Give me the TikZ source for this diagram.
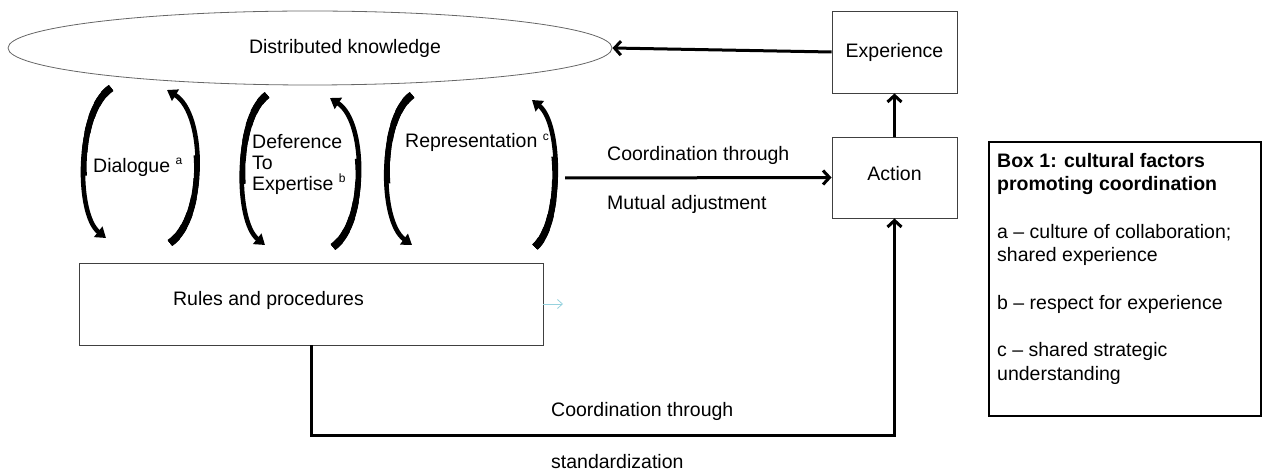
\documentclass[tikz,border=0pt]{standalone}
\usepackage{fontspec}
\setmainfont{Liberation Sans}
\usetikzlibrary{arrows.meta,shapes.geometric}

\definecolor{paleblue}{RGB}{150,210,222}
% small raised marker after a label
\newcommand\supmark[1]{\raisebox{7.5pt}{\fontsize{12}{12}\selectfont #1}}
% curved arrow whose tail end is thicker than its head end
\newcommand\bentarrow[4]{%
  \draw[loop] #1 .. controls #2 and #3 .. #4;
  \foreach \w/\l in {5.1/95,5.6/72,6.1/52,6.6/36,7.1/22,7.6/10}{%
    \draw[loopbase, line width=\w pt, dash pattern=on \l pt off 600pt] #1 .. controls #2 and #3 .. #4;}}

\begin{document}
\begin{tikzpicture}[x=1pt,y=-1pt,
  every node/.style={font=\fontsize{19.5}{23.5}\selectfont, inner sep=0pt},
  box/.style={draw=black!75, line width=0.9pt, rectangle},
  flow/.style={line width=3pt, -{Straight Barb[length=6.5pt,width=14pt]}},
  loopbase/.style={line cap=butt},
  loop/.style={loopbase, line width=4.6pt, -{Triangle[length=10pt,width=13pt]}},
  lbl/.style={anchor=base west}
]
\useasboundingbox (0,0) rectangle (1267,470);

% knowledge ellipse
\node[ellipse, draw=black!60, line width=0.8pt, minimum width=604pt, minimum height=74pt] (dk) at (310,48) {};
\node[anchor=base] (dktext) at (345,54) {Distributed knowledge};

% boxes
\node[box, minimum width=125pt, minimum height=82pt] (exp) at (894.5,52) {Experience};
\node[box, minimum width=125pt, minimum height=81pt, text depth=8pt] (act) at (894.5,177.5) {Action};
\node[box, minimum width=464pt, minimum height=82pt] (rules) at (311,304) {};
\node[anchor=base] (rulestext) at (268.5,306) {Rules and procedures};

% legend box
\node[draw=black, line width=1.2pt, minimum width=272pt, minimum height=274pt] (box1) at (1125,279) {};
\node[anchor=north west, align=left] (box1text) at (997,153)
  {\textbf{Box 1: cultural factors}\\
   \textbf{promoting coordination}\\[24pt]
   a – culture of collaboration;\\
   shared experience\\[24pt]
   b – respect for experience\\[24pt]
   c – shared strategic\\
   understanding};

% cultural factor labels
\node[lbl] (dlg) at (93,172.5) {Dialogue \supmark{a}};
\node[anchor=north west, align=left, font=\fontsize{19.5}{21}\selectfont] (dte) at (252,134)
  {Deference\\To\\Expertise \supmark{b}};
\node[lbl] (rep) at (405,148) {Representation \supmark{c}};

% curved loop arrows
\bentarrow{(111,88)}{(76,112)}{(76,214)}{(106,238)}
\bentarrow{(170,243)}{(206,218)}{(206,114)}{(167,90)}
\bentarrow{(267,95)}{(235,119)}{(235,221)}{(265,245)}
\bentarrow{(333,247)}{(367,223)}{(367,122)}{(330,98)}
\bentarrow{(412,95)}{(379,119)}{(379,221)}{(412,245)}
\bentarrow{(535,247)}{(562,223)}{(562,124)}{(532,100)}

% mutual adjustment
\coordinate (mstart) at (565,178);
\draw[flow] (mstart) -- (act.west);
\node[lbl] (mtop) at (607,161) {Coordination through};
\node[lbl] (mbot) at (607,209.5) {Mutual adjustment};

% action to experience to knowledge
\draw[flow] (act.north) -- (exp.south);
\draw[flow] (exp.west) -- (dk.east);

% standardization path
\coordinate (corner) at (311,435);
\draw[flow] (rules.south) -- (corner) -| (act.south);
\node[lbl] (stop) at (551,417) {Coordination through};
\node[lbl] (sbot) at (551,468) {standardization};

% faint stub arrow
\coordinate (rtip) at (563,304);
\draw[paleblue, line width=0.8pt, -{Straight Barb[length=5pt,width=9pt]}] (rules.east) -- (rtip);
\end{tikzpicture}
\end{document}
